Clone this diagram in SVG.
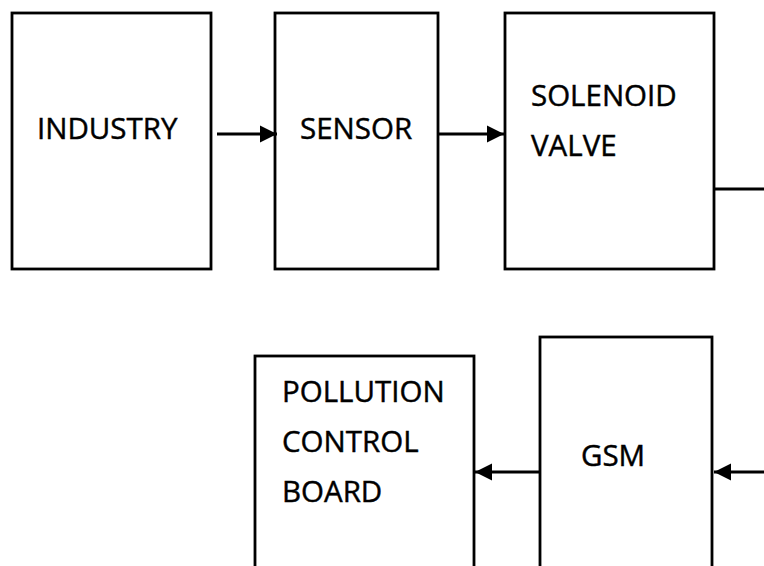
<svg xmlns="http://www.w3.org/2000/svg" width="764" height="566" viewBox="0 0 764 566">
<style>
.box{fill:#fff;stroke:#000;stroke-width:2.8}
.lbl{font-family:"Open Sans","Liberation Sans",sans-serif;font-size:29.5px;fill:#000;stroke:#000;stroke-width:0.45}
.con{stroke:#000;stroke-width:2.8;fill:none}
</style>
<defs>
<marker id="ah" markerUnits="userSpaceOnUse" markerWidth="18" markerHeight="18" refX="17" refY="9" orient="auto">
<path d="M0,0.5 L17,9 L0,17.5 z" fill="#000"/>
</marker>
</defs>
<rect width="764" height="566" fill="#fff"/>
<g id="industry">
<rect class="box" x="12" y="13" width="199" height="256"/>
<text class="lbl" x="37" y="139">INDUSTRY</text>
</g>
<g id="sensor">
<rect class="box" x="275" y="13" width="163" height="256"/>
<text class="lbl" x="300" y="139">SENSOR</text>
</g>
<g id="solenoid">
<rect class="box" x="505" y="13" width="209" height="256"/>
<text class="lbl" x="531" y="106">SOLENOID</text>
<text class="lbl" x="531" y="156">VALVE</text>
</g>
<g id="pollution">
<rect class="box" x="255" y="356" width="219" height="240"/>
<text class="lbl" x="282" y="402">POLLUTION</text>
<text class="lbl" x="282" y="452">CONTROL</text>
<text class="lbl" x="282" y="502">BOARD</text>
</g>
<g id="gsm">
<rect class="box" x="540" y="337" width="172" height="260"/>
<text class="lbl" x="581" y="466">GSM</text>
</g>
<g id="connectors">
<line class="con" x1="217" y1="134" x2="277" y2="134" marker-end="url(#ah)"/>
<line class="con" x1="438" y1="134" x2="504" y2="134" marker-end="url(#ah)"/>
<line class="con" x1="714" y1="189" x2="764" y2="189"/>
<line class="con" x1="764" y1="472" x2="714" y2="472" marker-end="url(#ah)"/>
<line class="con" x1="540" y1="472" x2="475" y2="472" marker-end="url(#ah)"/>
</g>
</svg>
